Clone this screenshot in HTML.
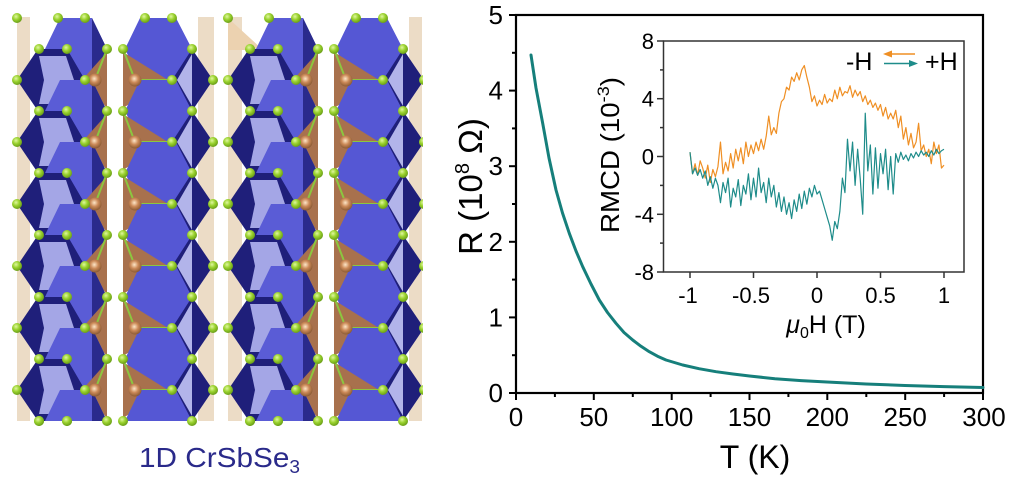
<!DOCTYPE html>
<html><head><meta charset="utf-8"><style>
html,body{margin:0;padding:0;background:#fff;}
svg{display:block;font-family:"Liberation Sans",Arial,sans-serif;}
</style></head><body>
<svg width="1010" height="477" viewBox="0 0 1010 477" xmlns="http://www.w3.org/2000/svg">
<defs>
<radialGradient id="gg" cx="0.4" cy="0.35" r="0.65"><stop offset="0" stop-color="#e0f7a0"/><stop offset="0.5" stop-color="#9ad22e"/><stop offset="1" stop-color="#6a9e18"/></radialGradient>
<radialGradient id="bg" cx="0.45" cy="0.4" r="0.6"><stop offset="0" stop-color="#fde6c8"/><stop offset="0.5" stop-color="#cc8a58"/><stop offset="1" stop-color="#8a5a34"/></radialGradient>
<clipPath id="clipS"><rect x="0" y="14" width="422" height="407"/></clipPath>
<clipPath id="clipAt"><rect x="0" y="0" width="423" height="428"/></clipPath>
<g id="shA">
  <polygon points="60,18 92,18 107,49 92,80 60,80 45,49" fill="#5a5cd6"/>
  <polygon points="92,18 107,49 92,80" fill="#2a2a8c"/>
  <polygon points="107,52 82,80 107,108" fill="#a8714d"/>
  <polygon points="38,49 67,49 85,80 67,111 38,111 17,80" fill="#1f1f7a"/>
  <polygon points="39,56 66,56 74,80 66,104 39,104 44,80" fill="#a4a6e6"/>
  <line x1="95" y1="80" x2="107" y2="49" stroke="#8cc63f" stroke-width="2"/>
  <line x1="95" y1="80" x2="85" y2="80" stroke="#8cc63f" stroke-width="2"/>
</g>
<g id="atA">
  <circle cx="95" cy="80" r="6.5" fill="url(#bg)"/>
  <circle cx="17" cy="80" r="5" fill="url(#gg)"/>
  <circle cx="39" cy="49" r="5" fill="url(#gg)"/>
  <circle cx="67" cy="49" r="5" fill="url(#gg)"/>
  <circle cx="85" cy="80" r="5" fill="url(#gg)"/>
  <circle cx="107" cy="49" r="5" fill="url(#gg)"/>
</g>
<g id="shB">
  <polygon points="140,18 176,18 192,49 176,80 140,80 125,49" fill="#5557d4"/>
  <polygon points="123,52 168,80 123,108" fill="#a8714d"/>
  <polygon points="192,49 213,80 192,111 172,80" fill="#1f1f7a"/>
  <polygon points="192,54 177,80 192,106" fill="#b2b4ea"/>
  <line x1="135" y1="80" x2="172" y2="80" stroke="#8cc63f" stroke-width="2"/>
  <line x1="135" y1="80" x2="123" y2="49" stroke="#8cc63f" stroke-width="2"/>
</g>
<g id="atB">
  <circle cx="135" cy="80" r="6.5" fill="url(#bg)"/>
  <circle cx="123" cy="49" r="5" fill="url(#gg)"/>
  <circle cx="192" cy="49" r="5" fill="url(#gg)"/>
  <circle cx="172" cy="80" r="5" fill="url(#gg)"/>
  <circle cx="213" cy="80" r="5" fill="url(#gg)"/>
</g>
</defs>

<!-- crystal structure -->
<g clip-path="url(#clipS)">
  <rect x="17" y="17" width="13" height="404" fill="#ecdcc6"/>
  <rect x="198" y="17" width="16" height="404" fill="#ecdcc6"/>
  <rect x="228" y="17" width="14" height="404" fill="#ecdcc6"/>
  <polygon points="228,18 263,50 228,50" fill="#ecd2b0"/>
  <rect x="409" y="17" width="14" height="404" fill="#ecdcc6"/>
  <use href="#shA" y="0"/><use href="#shA" y="62"/><use href="#shA" y="124"/><use href="#shA" y="186"/><use href="#shA" y="248"/><use href="#shA" y="310"/><use href="#shA" y="372"/>
  <use href="#shA" x="211" y="0"/><use href="#shA" x="211" y="62"/><use href="#shA" x="211" y="124"/><use href="#shA" x="211" y="186"/><use href="#shA" x="211" y="248"/><use href="#shA" x="211" y="310"/><use href="#shA" x="211" y="372"/>
  <use href="#shB" y="0"/><use href="#shB" y="62"/><use href="#shB" y="124"/><use href="#shB" y="186"/><use href="#shB" y="248"/><use href="#shB" y="310"/><use href="#shB" y="372"/>
  <use href="#shB" x="211" y="0"/><use href="#shB" x="211" y="62"/><use href="#shB" x="211" y="124"/><use href="#shB" x="211" y="186"/><use href="#shB" x="211" y="248"/><use href="#shB" x="211" y="310"/><use href="#shB" x="211" y="372"/>
</g>
<g clip-path="url(#clipAt)">
  <use href="#atA" y="0"/><use href="#atA" y="62"/><use href="#atA" y="124"/><use href="#atA" y="186"/><use href="#atA" y="248"/><use href="#atA" y="310"/><use href="#atA" y="372"/>
  <use href="#atA" x="211" y="0"/><use href="#atA" x="211" y="62"/><use href="#atA" x="211" y="124"/><use href="#atA" x="211" y="186"/><use href="#atA" x="211" y="248"/><use href="#atA" x="211" y="310"/><use href="#atA" x="211" y="372"/>
  <use href="#atB" y="0"/><use href="#atB" y="62"/><use href="#atB" y="124"/><use href="#atB" y="186"/><use href="#atB" y="248"/><use href="#atB" y="310"/><use href="#atB" y="372"/>
  <use href="#atB" x="211" y="0"/><use href="#atB" x="211" y="62"/><use href="#atB" x="211" y="124"/><use href="#atB" x="211" y="186"/><use href="#atB" x="211" y="248"/><use href="#atB" x="211" y="310"/><use href="#atB" x="211" y="372"/>
  <circle cx="17" cy="18" r="5" fill="url(#gg)"/><circle cx="58" cy="18" r="5" fill="url(#gg)"/><circle cx="85" cy="18" r="5" fill="url(#gg)"/>
  <circle cx="145" cy="18" r="5" fill="url(#gg)"/><circle cx="172" cy="18" r="5" fill="url(#gg)"/>
  <circle cx="228" cy="18" r="5" fill="url(#gg)"/><circle cx="269" cy="18" r="5" fill="url(#gg)"/><circle cx="296" cy="18" r="5" fill="url(#gg)"/>
  <circle cx="356" cy="18" r="5" fill="url(#gg)"/><circle cx="383" cy="18" r="5" fill="url(#gg)"/>
  <circle cx="39" cy="421" r="5" fill="url(#gg)"/><circle cx="67" cy="421" r="5" fill="url(#gg)"/>
  <circle cx="250" cy="421" r="5" fill="url(#gg)"/><circle cx="278" cy="421" r="5" fill="url(#gg)"/>
</g>
<text x="139" y="467" font-size="28" fill="#2a2a8a" textLength="161" lengthAdjust="spacingAndGlyphs">1D CrSbSe<tspan font-size="18" dy="6">3</tspan></text>

<!-- main chart frame -->
<rect x="516" y="15" width="467" height="378" fill="none" stroke="#000" stroke-width="2.2"/>
<g stroke="#000" stroke-width="2">
  <line x1="509" y1="393" x2="516" y2="393"/><line x1="509" y1="317.4" x2="516" y2="317.4"/><line x1="509" y1="241.8" x2="516" y2="241.8"/><line x1="509" y1="166.2" x2="516" y2="166.2"/><line x1="509" y1="90.6" x2="516" y2="90.6"/><line x1="509" y1="15" x2="516" y2="15"/>
  <line x1="512" y1="355.2" x2="516" y2="355.2"/><line x1="512" y1="279.6" x2="516" y2="279.6"/><line x1="512" y1="204" x2="516" y2="204"/><line x1="512" y1="128.4" x2="516" y2="128.4"/><line x1="512" y1="52.8" x2="516" y2="52.8"/>
  <line x1="516" y1="393" x2="516" y2="400"/><line x1="593.8" y1="393" x2="593.8" y2="400"/><line x1="671.7" y1="393" x2="671.7" y2="400"/><line x1="749.5" y1="393" x2="749.5" y2="400"/><line x1="827.3" y1="393" x2="827.3" y2="400"/><line x1="905.2" y1="393" x2="905.2" y2="400"/><line x1="983" y1="393" x2="983" y2="400"/>
  <line x1="554.9" y1="393" x2="554.9" y2="397"/><line x1="632.8" y1="393" x2="632.8" y2="397"/><line x1="710.6" y1="393" x2="710.6" y2="397"/><line x1="788.4" y1="393" x2="788.4" y2="397"/><line x1="866.3" y1="393" x2="866.3" y2="397"/><line x1="944.1" y1="393" x2="944.1" y2="397"/>
</g>
<g font-size="26" fill="#000" text-anchor="end">
  <text x="503" y="402">0</text><text x="503" y="326.4">1</text><text x="503" y="250.8">2</text><text x="503" y="175.2">3</text><text x="503" y="99.6">4</text><text x="503" y="24">5</text>
</g>
<g font-size="26" fill="#000" text-anchor="middle">
  <text x="516" y="426">0</text><text x="593.8" y="426">50</text><text x="671.7" y="426">100</text><text x="749.5" y="426">150</text><text x="827.3" y="426">200</text><text x="905.2" y="426">250</text><text x="984" y="426">300</text>
</g>
<text x="755" y="468" font-size="32" text-anchor="middle">T (K)</text>
<text transform="translate(482,186.5) rotate(-90)" font-size="33" text-anchor="middle">R (10<tspan font-size="20" dy="-13">8</tspan><tspan dy="13"> Ω)</tspan></text>

<!-- main curve -->
<polyline fill="none" stroke="#167f7b" stroke-width="3" stroke-linejoin="round" stroke-linecap="round" points="531,55 536,88 542.7,123.3 549,158 556,190 562.5,213 569.3,233.3 576,251 582.7,266.7 591,284 599.3,300 607.5,312.5 616,323.3 624,332.5 632.7,340 641,346.3 649.3,351.7 657.5,356.2 666,360 682.7,365 699,368.7 716,371.7 733,374 749.5,376 775,378.7 801,380.6 827,382 866,384 905,385.5 944,386.6 983,387.5"/>

<!-- inset -->
<rect x="663.5" y="41" width="300.5" height="231" fill="#fff" stroke="#333" stroke-width="1.5"/>
<g stroke="#333" stroke-width="1.5">
  <line x1="657" y1="41" x2="663.5" y2="41"/><line x1="657" y1="98.7" x2="663.5" y2="98.7"/><line x1="657" y1="156.5" x2="663.5" y2="156.5"/><line x1="657" y1="214.3" x2="663.5" y2="214.3"/><line x1="657" y1="272" x2="663.5" y2="272"/>
  <line x1="660" y1="69.9" x2="663.5" y2="69.9"/><line x1="660" y1="127.6" x2="663.5" y2="127.6"/><line x1="660" y1="185.4" x2="663.5" y2="185.4"/><line x1="660" y1="243.1" x2="663.5" y2="243.1"/>
  <line x1="690" y1="272" x2="690" y2="278"/><line x1="753.5" y1="272" x2="753.5" y2="278"/><line x1="817" y1="272" x2="817" y2="278"/><line x1="880.5" y1="272" x2="880.5" y2="278"/><line x1="944" y1="272" x2="944" y2="278"/>
</g>
<g font-size="22" fill="#000" text-anchor="end">
  <text x="654" y="49">8</text><text x="654" y="106.7">4</text><text x="654" y="164.5">0</text><text x="654" y="222.3">-4</text><text x="654" y="280">-8</text>
</g>
<g font-size="22" fill="#000" text-anchor="middle">
  <text x="688" y="303">-1</text><text x="751" y="303">-0.5</text><text x="817" y="303">0</text><text x="880.5" y="303">0.5</text><text x="944" y="303">1</text>
</g>
<text x="826" y="333" font-size="25" text-anchor="middle"><tspan font-style="italic">μ</tspan><tspan font-size="16" dy="5">0</tspan><tspan dy="-5">H (T)</tspan></text>
<text transform="translate(619,155) rotate(-90)" font-size="26" text-anchor="middle" textLength="156" lengthAdjust="spacingAndGlyphs">RMCD (10<tspan font-size="17" dy="-10">-3</tspan><tspan dy="10">)</tspan></text>

<g transform="translate(690,156.5) scale(2.54,-14.44)">
<polyline fill="none" stroke="#ef8f24" stroke-width="1.2" vector-effect="non-scaling-stroke" stroke-linejoin="round" points="0,0.3 1,-1.2 2,-0.5 3,-1.3 4,-0.3 5,-0.8 6,-1.5 7,-0.6 8,-1.8 9,-0.9 10,-1.4 11,-0.7 12,1.0 13,-1.2 14,-0.4 15,-1.0 16,0.2 17,-0.8 18,0.5 19,-0.3 20,0.6 21,-0.5 22,1.0 23,0.0 24,0.8 25,0.2 26,1.0 27,0.4 28,1.2 29,0.5 30,1.4 31,2.8 32,1.5 33,2.0 34,1.6 35,3.0 36,3.8 37,4.0 38,4.8 39,4.6 40,5.5 41,5.2 42,5.8 43,5.3 44,6.0 45,6.3 46,5.5 47,4.8 48,3.8 49,4.2 50,3.5 51,3.9 52,3.6 53,4.3 54,3.7 55,4.0 56,3.8 57,4.6 58,4.0 59,4.8 60,4.2 61,4.5 62,4.4 63,4.9 64,4.1 65,4.6 66,4.2 67,4.5 68,3.8 69,4.2 70,3.6 71,3.9 72,3.4 73,3.7 74,3.2 75,3.6 76,2.8 77,3.4 78,2.6 79,3.0 80,2.6 81,3.2 82,2.0 83,2.8 84,1.2 85,2.0 86,0.8 87,1.6 88,0.6 89,1.0 90,2.3 91,0.4 92,0.8 93,0.0 94,0.5 95,-0.5 96,1.0 97,0.2 98,0.8 99,-0.8 100,-0.6"/>
<polyline fill="none" stroke="#1e8c8a" stroke-width="1.2" vector-effect="non-scaling-stroke" stroke-linejoin="round" points="0,0.3 1,-1.2 2,-0.8 3,-1.3 4,-0.9 5,-1.5 6,-1.0 7,-2.0 8,-1.4 9,-2.2 10,-1.5 11,-2.0 12,-3.2 13,-1.8 14,-2.5 15,-1.5 16,-3.5 17,-2.2 18,-2.8 19,-1.6 20,-3.4 21,-2.0 22,-2.6 23,-1.2 24,-3.0 25,-1.5 26,-2.8 27,-0.8 28,-2.5 29,-1.8 30,-3.2 31,-1.5 32,-2.8 33,-2.0 34,-3.5 35,-2.5 36,-3.8 37,-2.8 38,-4.0 39,-3.2 40,-4.3 41,-3.0 42,-3.8 43,-2.6 44,-3.6 45,-2.4 46,-3.3 47,-2.2 48,-2.8 49,-2.0 50,-2.6 51,-2.4 52,-3.0 53,-3.6 54,-4.2 55,-4.8 56,-5.8 57,-4.5 58,-5.0 59,-3.8 60,-1.5 61,-2.5 62,1.2 63,-1.0 64,1.0 65,-2.0 66,0.5 67,-1.5 68,-4.0 69,3.0 70,-1.0 71,0.8 72,-2.6 73,0.6 74,-2.2 75,0.2 76,-1.2 77,0.5 78,-2.3 79,0.0 80,-2.6 81,0.2 82,-0.4 83,0.3 84,-0.2 85,0.1 86,-0.3 87,0.2 88,-0.1 89,0.3 90,0.0 91,0.4 92,0.1 93,0.3 94,0.0 95,0.4 96,0.1 97,0.5 98,0.2 99,0.4 100,0.5"/>
</g>

<!-- legend -->
<text x="846" y="70" font-size="25">-H</text>
<text x="925" y="70" font-size="25">+H</text>
<line x1="890" y1="54" x2="915" y2="54" stroke="#ef8f24" stroke-width="1.6"/>
<polygon points="883,54 892,50.5 892,57.5" fill="#ef8f24"/>
<line x1="884" y1="63.5" x2="910" y2="63.5" stroke="#1e8c8a" stroke-width="1.6"/>
<polygon points="918,63.5 909,60 909,67" fill="#1e8c8a"/>
</svg>
</body></html>
